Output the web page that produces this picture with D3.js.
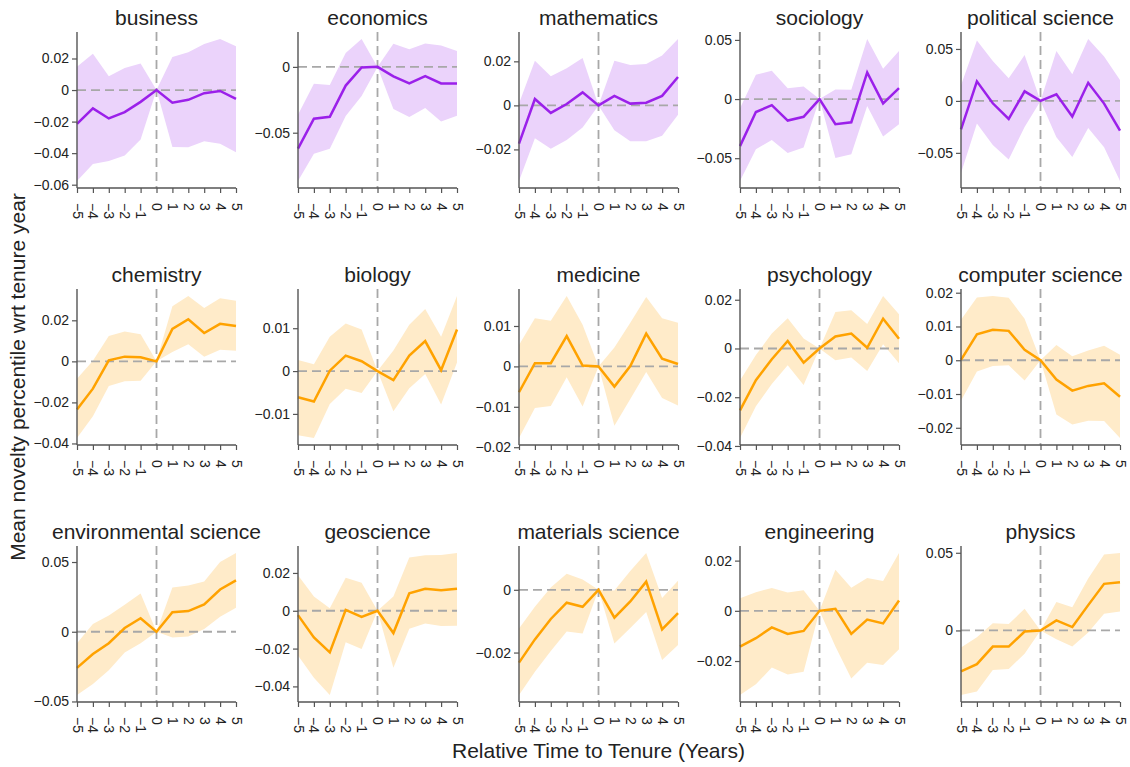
<!DOCTYPE html>
<html>
<head>
<meta charset="utf-8">
<script src="https://cdn.jsdelivr.net/npm/d3@7"></script>
<style>
  html, body { margin: 0; padding: 0; background: #fff; }
  svg { display: block; font-family: "Liberation Sans", Arial, Helvetica, sans-serif; }
</style>
</head>
<body>
<svg id="chart" width="1130" height="767"></svg>
<script>
// ---------------- data ----------------
const years = [-5, -4, -3, -2, -1, 0, 1, 2, 3, 4, 5];

const fields = [
  "business", "economics", "mathematics", "sociology", "political science",
  "chemistry", "biology", "medicine", "psychology", "computer science",
  "environmental science", "geoscience", "materials science", "engineering", "physics"
];

// group: 0 = purple panels, 1 = orange panels
const fieldGroup = [0, 0, 0, 0, 0, 1, 1, 1, 1, 1, 1, 1, 1, 1, 1];

const meanByField = [
  [-0.0215, -0.0116, -0.018, -0.014, -0.0075, 0, -0.008, -0.0062, -0.002, -0.0006, -0.0056],
  [-0.0621, -0.0394, -0.0379, -0.0142, -0.0005, 0, -0.0072, -0.0126, -0.007, -0.0126, -0.0126],
  [-0.0174, 0.0029, -0.0034, 0.0006, 0.0059, 0, 0.0043, 0.0008, 0.0012, 0.0043, 0.0129],
  [-0.0398, -0.011, -0.0052, -0.0182, -0.015, 0, -0.0213, -0.0196, 0.0225, -0.0037, 0.0092],
  [-0.0273, 0.0188, -0.0023, -0.0174, 0.0092, 0, 0.0063, -0.0151, 0.0174, -0.0026, -0.0286],
  [-0.0235, -0.0133, 0.0005, 0.0023, 0.002, 0, 0.0158, 0.0205, 0.0138, 0.0183, 0.0172],
  [-0.0061, -0.0071, 0.0001, 0.0036, 0.0023, 0, -0.0021, 0.0036, 0.007, 0.0002, 0.0097],
  [-0.0064, 0.0008, 0.0008, 0.0075, 0.0002, 0, -0.005, 0.0001, 0.0081, 0.0019, 0.0006],
  [-0.0254, -0.013, -0.0044, 0.0031, -0.0058, 0, 0.0049, 0.0061, 0.0003, 0.0122, 0.004],
  [0.0001, 0.0077, 0.009, 0.0087, 0.0031, 0, -0.0057, -0.009, -0.0076, -0.0068, -0.0108],
  [-0.0259, -0.016, -0.0082, 0.0027, 0.0097, 0, 0.014, 0.0148, 0.0196, 0.0303, 0.0368],
  [-0.0023, -0.0141, -0.022, 0.0005, -0.0032, 0, -0.0118, 0.0093, 0.0116, 0.0109, 0.0116],
  [-0.0232, -0.0158, -0.0093, -0.0041, -0.0054, 0, -0.0089, -0.0037, 0.0026, -0.0126, -0.0074],
  [-0.0143, -0.0109, -0.0066, -0.0092, -0.008, 0, 0.0008, -0.0092, -0.0035, -0.005, 0.0041],
  [-0.0263, -0.0217, -0.0104, -0.0104, -0.0007, 0, 0.0065, 0.0022, 0.0163, 0.03, 0.0311]
];

const upperByField = [
  [0.0148, 0.023, 0.0088, 0.014, 0.0168, 0, 0.0209, 0.024, 0.0292, 0.0323, 0.0277],
  [-0.0363, -0.0129, -0.0137, 0.0106, 0.0211, 0, 0.0175, 0.0134, 0.0178, 0.0162, 0.0121],
  [0.0009, 0.0203, 0.0132, 0.0169, 0.0215, 0, 0.0203, 0.0183, 0.0188, 0.0226, 0.0301],
  [-0.0078, 0.0205, 0.0239, 0.0092, 0.0107, 0, 0.0081, 0.0078, 0.0507, 0.0256, 0.0406],
  [0.0151, 0.0582, 0.0385, 0.0217, 0.0441, 0, 0.048, 0.0257, 0.0595, 0.0428, 0.0201],
  [-0.0085, 0.0003, 0.0123, 0.0145, 0.0132, 0, 0.0268, 0.0318, 0.026, 0.0307, 0.0295],
  [0.0026, 0.0016, 0.008, 0.0111, 0.0097, 0, 0.0048, 0.0108, 0.0145, 0.008, 0.0175],
  [0.0053, 0.0119, 0.0113, 0.0174, 0.0103, 0, 0.0047, 0.0108, 0.0172, 0.0119, 0.0108],
  [-0.0131, -0.0027, 0.0061, 0.0124, 0.0041, 0, 0.015, 0.0157, 0.01, 0.0215, 0.014],
  [0.012, 0.0186, 0.019, 0.0185, 0.0123, 0, 0.0045, 0.0012, 0.0029, 0.0043, 0.0016],
  [-0.0082, 0.0056, 0.0116, 0.0194, 0.0274, 0, 0.0317, 0.0332, 0.0361, 0.0501, 0.0564],
  [0.0188, 0.0075, 0.0013, 0.0175, 0.0148, 0, 0.0075, 0.0282, 0.0293, 0.0295, 0.0305],
  [-0.0123, -0.0054, 0.0007, 0.0051, 0.0033, 0, -0.0002, 0.006, 0.0117, -0.0026, 0.0029],
  [0.005, 0.0074, 0.0091, 0.0073, 0.0082, 0, 0.0164, 0.0092, 0.0131, 0.0119, 0.023],
  [-0.0109, -0.0043, 0.0046, 0.0041, 0.0139, 0, 0.0183, 0.015, 0.0335, 0.0489, 0.0498]
];

const lowerByField = [
  [-0.0576, -0.0469, -0.045, -0.0415, -0.0314, 0, -0.0361, -0.0363, -0.0325, -0.034, -0.0394],
  [-0.0866, -0.066, -0.0621, -0.0374, -0.0222, 0, -0.032, -0.0381, -0.0312, -0.0415, -0.0371],
  [-0.0343, -0.0149, -0.0197, -0.0157, -0.0101, 0, -0.0113, -0.0163, -0.0163, -0.0138, -0.0042],
  [-0.0692, -0.0424, -0.0346, -0.0455, -0.0409, 0, -0.0499, -0.0467, -0.0058, -0.0317, -0.0213],
  [-0.0694, -0.0217, -0.0424, -0.0563, -0.025, 0, -0.0349, -0.054, -0.026, -0.0447, -0.077],
  [-0.0373, -0.0267, -0.012, -0.0097, -0.0095, 0, 0.0045, 0.0083, 0.0023, 0.0057, 0.0052],
  [-0.015, -0.0156, -0.0077, -0.0041, -0.0051, 0, -0.0094, -0.004, -0.0007, -0.0078, 0.002],
  [-0.0177, -0.0103, -0.0098, -0.0027, -0.0099, 0, -0.0147, -0.0081, -0.0014, -0.0078, -0.0097],
  [-0.0367, -0.0237, -0.0146, -0.0069, -0.015, 0, -0.0048, -0.0037, -0.0092, 0.0017, -0.0061],
  [-0.012, -0.0033, -0.0017, -0.0015, -0.006, 0, -0.0161, -0.019, -0.0179, -0.018, -0.023],
  [-0.0453, -0.0375, -0.0276, -0.0148, -0.0082, 0, -0.0041, -0.0034, 0.0019, 0.0107, 0.0172],
  [-0.0236, -0.0354, -0.0445, -0.0166, -0.0202, 0, -0.0302, -0.0095, -0.0068, -0.008, -0.0079],
  [-0.0335, -0.0261, -0.0195, -0.0133, -0.0139, 0, -0.0171, -0.0122, -0.0071, -0.0224, -0.0176],
  [-0.0335, -0.0293, -0.0226, -0.0254, -0.0243, 0, -0.0142, -0.027, -0.0207, -0.0216, -0.0153],
  [-0.0415, -0.0393, -0.0254, -0.0248, -0.015, 0, -0.0057, -0.0104, -0.0013, 0.0107, 0.0122]
];

const yTicksByField = [
  [0.02, 0, -0.02, -0.04, -0.06],
  [0, -0.05],
  [0.02, 0, -0.02],
  [0.05, 0, -0.05],
  [0.05, 0, -0.05],
  [0.02, 0, -0.02, -0.04],
  [0.01, 0, -0.01],
  [0.01, 0, -0.01, -0.02],
  [0.02, 0, -0.02, -0.04],
  [0.02, 0.01, 0, -0.01, -0.02],
  [0.05, 0, -0.05],
  [0.02, 0, -0.02, -0.04],
  [0, -0.02],
  [0.02, 0, -0.02],
  [0.05, 0]
];

const xAxisTitle = "Relative Time to Tenure (Years)";
const yAxisTitle = "Mean novelty percentile wrt tenure year";

// ---------------- styles / layout ----------------
const lineColors = ["#9b20ea", "#ffa200"];
const fillColors = ["#ebd3fb", "#ffebc9"];

const nCols = 5;
const panelW = 159, panelH = 156;
const left0 = 77, colStep = 221;
const top0 = 32, rowStep = 257;

const svg = d3.select("#chart");
const fmt = d3.format("~g");

fields.forEach((name, i) => {
  const col = i % nCols, row = Math.floor(i / nCols);
  const ox = left0 + col * colStep;
  const oy = top0 + row * rowStep;
  const mean = meanByField[i], lo = lowerByField[i], hi = upperByField[i];
  const g = svg.append("g").attr("transform", `translate(${ox},${oy})`);

  const x = d3.scaleLinear().domain([d3.min(years), d3.max(years)]).range([0, panelW]);
  const dmin = d3.min(lo.concat(mean)), dmax = d3.max(hi.concat(mean));
  const pad = (dmax - dmin) * 0.05;
  const y = d3.scaleLinear().domain([dmin - pad, dmax + pad]).range([panelH, 0]);

  const gi = fieldGroup[i];

  // confidence band
  const area = d3.area().x((d, k) => x(years[k])).y0((d, k) => y(lo[k])).y1((d, k) => y(hi[k]));
  g.append("path").datum(mean).attr("d", area).attr("fill", fillColors[gi]).attr("stroke", "none");

  // reference dashed lines
  g.append("line")
    .attr("x1", x(years[0])).attr("x2", x(years[years.length - 1]))
    .attr("y1", y(0)).attr("y2", y(0))
    .attr("stroke", "#a8a8a8").attr("stroke-width", 1.8).attr("stroke-dasharray", "9,5");
  g.append("line")
    .attr("x1", x(0)).attr("x2", x(0))
    .attr("y1", 0).attr("y2", panelH)
    .attr("stroke", "#a8a8a8").attr("stroke-width", 1.8).attr("stroke-dasharray", "9,5");

  // mean line
  const line = d3.line().x((d, k) => x(years[k])).y(d => y(d));
  g.append("path").datum(mean).attr("d", line)
    .attr("fill", "none").attr("stroke", lineColors[gi]).attr("stroke-width", 2.5)
    .attr("stroke-linejoin", "miter");

  // y axis
  const ya = g.append("g").call(d3.axisLeft(y).tickValues(yTicksByField[i]).tickFormat(fmt).tickSize(5).tickPadding(3));
  ya.select(".domain").attr("d", `M0,0V${panelH}`).attr("stroke", "#555").attr("stroke-width", 1.4);
  ya.selectAll(".tick line").attr("stroke", "#555").attr("stroke-width", 1.2);
  ya.selectAll(".tick text").attr("font-size", 14).attr("fill", "#222")
    .attr("font-family", "'Liberation Sans', Arial, sans-serif");

  // x axis
  const xa = g.append("g").attr("transform", `translate(0,${panelH})`)
    .call(d3.axisBottom(x).tickValues(years).tickFormat(fmt).tickSize(5));
  xa.select(".domain").attr("d", `M0,0H${panelW}`).attr("stroke", "#555").attr("stroke-width", 1.4);
  xa.selectAll(".tick line").attr("stroke", "#555").attr("stroke-width", 1.2);
  xa.selectAll(".tick text")
    .attr("font-size", 14).attr("fill", "#222")
    .attr("font-family", "'Liberation Sans', Arial, sans-serif")
    .attr("text-anchor", "start")
    .attr("x", 0).attr("y", 0).attr("dy", "0.35em")
    .attr("transform", "translate(0,15) rotate(90)");

  // title
  svg.append("text")
    .attr("x", ox + panelW / 2).attr("y", oy - 7)
    .attr("text-anchor", "middle").attr("font-size", 21).attr("fill", "#222")
    .text(name);
});

// global axis titles
svg.append("text")
  .attr("x", left0 + 2 * colStep + panelW / 2).attr("y", 758)
  .attr("text-anchor", "middle").attr("font-size", 21).attr("fill", "#222")
  .text(xAxisTitle);

svg.append("text")
  .attr("transform", `translate(25,377) rotate(-90)`)
  .attr("text-anchor", "middle").attr("font-size", 21).attr("fill", "#222")
  .text(yAxisTitle);
</script>
</body>
</html>
